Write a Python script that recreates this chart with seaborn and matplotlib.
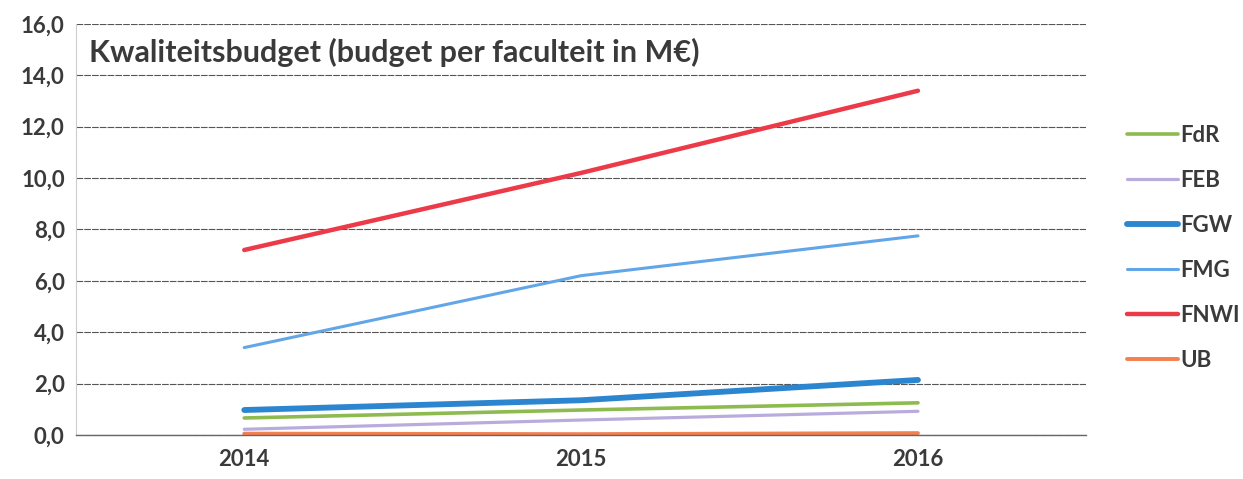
import matplotlib
matplotlib.use("Agg")
import matplotlib.pyplot as plt
import pandas as pd
import seaborn as sns
from matplotlib.lines import Line2D
from matplotlib.ticker import FuncFormatter, FixedLocator

years = ["2014", "2015", "2016"]
fdr = [0.66, 0.97, 1.25]
feb = [0.22, 0.58, 0.92]
fgw = [0.97, 1.35, 2.14]
fmg = [3.40, 6.20, 7.75]
fnwi = [7.20, 10.20, 13.40]
ub = [0.05, 0.03, 0.07]

faculties = ["FdR", "FEB", "FGW", "FMG", "FNWI", "UB"]
colors = {"FdR": "#8dbb4f", "FEB": "#b9acdc", "FGW": "#2b85cf",
          "FMG": "#62a6e8", "FNWI": "#ec3a48", "UB": "#f47f4f"}
widths = {"FdR": 2.6, "FEB": 2.3, "FGW": 4.2, "FMG": 2.2, "FNWI": 3.2, "UB": 2.8}

df = pd.DataFrame({
    "jaar": years * 6,
    "faculteit": [f for f in faculties for _ in years],
    "budget": fdr + feb + fgw + fmg + fnwi + ub,
})
df["pos"] = df["jaar"].map({y: i for i, y in enumerate(years)})

sns.set_style("white")
plt.rcParams["font.family"] = ["Lato", "DejaVu Sans"]
txt = "#3a3a3a"

fig = plt.figure(figsize=(12.43, 4.79), dpi=100)
ax = fig.add_axes([0.061, 0.092, 0.813, 0.858])

for f in faculties:
    sub = df[df["faculteit"] == f]
    sns.lineplot(data=sub, x="pos", y="budget", color=colors[f],
                 linewidth=widths[f], ax=ax, legend=False,
                 solid_capstyle="round")

ax.set_xlim(-0.5, 2.5)
ax.set_ylim(0, 16)
ax.set_yticks(range(0, 17, 2))
ax.yaxis.set_major_formatter(FuncFormatter(lambda v, p: f"{v:.1f}".replace(".", ",")))
ax.set_xticks(range(3))
ax.set_xticklabels(years)
ax.xaxis.set_minor_locator(FixedLocator([0.5, 1.5, 2.5]))
ax.tick_params(axis="x", which="major", length=0, pad=10)
ax.tick_params(axis="x", which="minor", length=7, width=1, color="#666666", direction="out")
ax.tick_params(axis="y", length=0, pad=8)
for lab in ax.get_xticklabels() + ax.get_yticklabels():
    lab.set_fontsize(16)
    lab.set_fontweight("bold")
    lab.set_color(txt)

ax.grid(axis="y", color="#555555", linewidth=0.8, linestyle=(0, (6, 1)))
ax.set_axisbelow(True)
for s in ["top", "right"]:
    ax.spines[s].set_visible(False)
ax.spines["left"].set_color("#cccccc")
ax.spines["left"].set_linewidth(0.8)
ax.spines["bottom"].set_color("#666666")
ax.spines["bottom"].set_linewidth(1.0)
ax.set_xlabel("")
ax.set_ylabel("")

ax.text(0.013, 0.965, "Kwaliteitsbudget (budget per faculteit in M€)",
        transform=ax.transAxes, fontsize=22, fontweight="bold", color=txt,
        va="top", ha="left")

handles = [Line2D([0], [0], color=colors[f], linewidth=widths[f]) for f in faculties]
leg = ax.legend(handles, faculties, loc="center left", bbox_to_anchor=(1.02, 0.455),
                frameon=False, handlelength=2.3, handletextpad=0.1,
                labelspacing=1.08, prop={"size": 16, "weight": "bold"})
for t in leg.get_texts():
    t.set_color(txt)

fig.savefig("out.png", dpi=100, facecolor="white")
